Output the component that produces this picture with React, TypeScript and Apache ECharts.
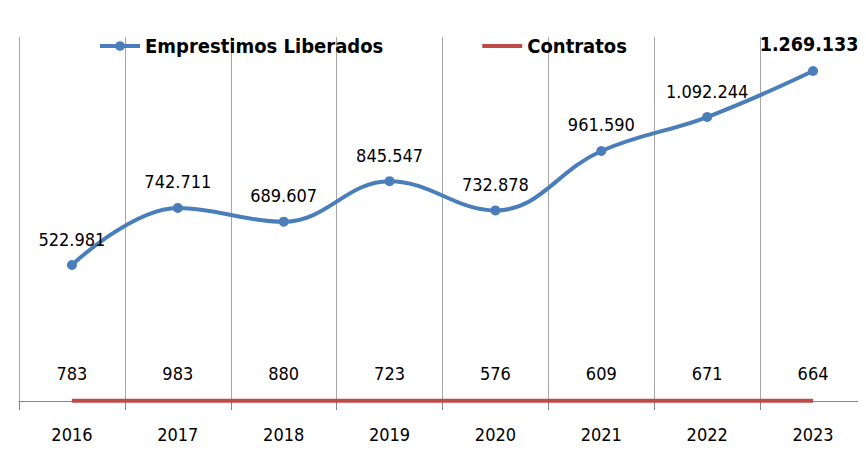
import React, { useEffect, useRef } from "react";
import * as echarts from "echarts";

const years = ["2016", "2017", "2018", "2019", "2020", "2021", "2022", "2023"];
const emprestimos = [522981, 742711, 689607, 845547, 732878, 961590, 1092244, 1269133];
const contratos = [783, 983, 880, 723, 576, 609, 671, 664];

const FONT = "'Liberation Sans Narrow', 'DejaVu Sans Condensed', 'Noto Sans', sans-serif";

function fmt(v: number): string {
  const s = Math.round(v).toString();
  return s.replace(/\B(?=(\d{3})+(?!\d))/g, ".");
}

export default function App() {
  const ref = useRef<HTMLDivElement>(null);
  useEffect(() => {
    if (!ref.current) return;
    const chart = echarts.init(ref.current, undefined, { renderer: "svg" });
    const last = emprestimos.length - 1;
    chart.setOption({
      animation: false,
      backgroundColor: "#ffffff",
      textStyle: { fontFamily: FONT },
      legend: {
        top: 31,
        left: 93,
        itemWidth: 40,
        itemHeight: 12,
        itemGap: 97,
        lineStyle: { width: 4 },
        textStyle: { fontFamily: FONT, fontSize: 20, fontWeight: "bold", color: "#000" },
        data: [
          { name: "Emprestimos Liberados" },
          { name: "Contratos", itemStyle: { opacity: 0 } },
        ],
      },
      grid: { left: 19, right: 0, top: 37, bottom: 69 },
      xAxis: {
        type: "category",
        data: years,
        boundaryGap: true,
        axisLine: { show: true, lineStyle: { color: "#868686", width: 1 } },
        axisTick: { show: true, length: 9, lineStyle: { color: "#868686" } },
        axisLabel: { fontFamily: FONT, fontSize: 18, color: "#000", margin: 24 },
        splitLine: { show: true, lineStyle: { color: "#A6A6A6", width: 1 } },
      },
      yAxis: {
        type: "value",
        min: 0,
        max: 1400000,
        show: false,
        splitLine: { show: false },
      },
      series: [
        {
          name: "Emprestimos Liberados",
          type: "line",
          smooth: 0.4,
          data: emprestimos.map((v, i) =>
            i === last
              ? {
                  value: v,
                  label: { fontWeight: "bold", fontSize: 19.5, distance: 12, offset: [-4, 0] },
                }
              : v
          ),
          symbol: "circle",
          symbolSize: 10,
          lineStyle: { color: "#4A7EBB", width: 4 },
          itemStyle: { color: "#4A7EBB" },
          label: {
            show: true,
            position: "top",
            distance: 12,
            fontFamily: FONT,
            fontSize: 18,
            color: "#000",
            formatter: (p: any) => fmt(p.value),
          },
          z: 3,
        },
        {
          name: "Contratos",
          type: "line",
          data: contratos,
          symbol: "circle",
          symbolSize: 0.01,
          showSymbol: true,
          lineStyle: { color: "#BE4B48", width: 4 },
          itemStyle: { color: "#BE4B48" },
          label: {
            show: true,
            position: "top",
            distance: 18,
            fontFamily: FONT,
            fontSize: 18,
            color: "#000",
            formatter: (p: any) => fmt(p.value),
          },
          z: 2,
        },
      ],
    });
    return () => chart.dispose();
  }, []);
  return <div ref={ref} style={{ width: 866, height: 470, margin: -8 }} />;
}
